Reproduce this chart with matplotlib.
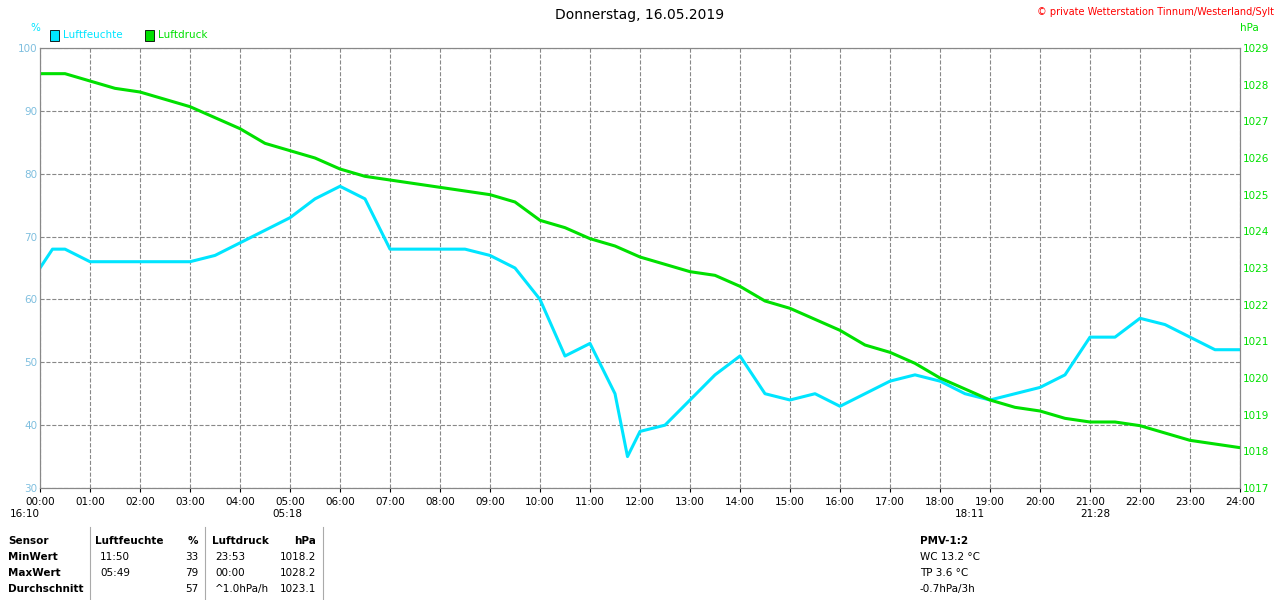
import matplotlib
matplotlib.use("Agg")
import matplotlib.pyplot as plt
import numpy as np

hours = [0,0.25,0.5,1,1.5,2,2.5,3,3.5,4,4.5,5,5.5,6,6.5,7,7.5,8,8.5,9,9.5,10,10.5,11,11.5,11.75,12,12.5,13,13.5,14,14.5,15,15.5,16,16.5,17,17.5,18,18.5,19,19.5,20,20.5,21,21.5,22,22.5,23,23.5,24]
humidity = [65,68,68,66,66,66,66,66,67,69,71,73,76,78,76,68,68,68,68,67,65,60,51,53,45,35,39,40,44,48,51,45,44,45,43,45,47,48,47,45,44,45,46,48,54,54,57,56,54,52,52]
p_hours = [0,0.5,1,1.5,2,2.5,3,3.5,4,4.5,5,5.5,6,6.5,7,7.5,8,8.5,9,9.5,10,10.5,11,11.5,12,12.5,13,13.5,14,14.5,15,15.5,16,16.5,17,17.5,18,18.5,19,19.5,20,20.5,21,21.5,22,22.5,23,23.5,24]
pressure = [1028.3,1028.3,1028.1,1027.9,1027.8,1027.6,1027.4,1027.1,1026.8,1026.4,1026.2,1026.0,1025.7,1025.5,1025.4,1025.3,1025.2,1025.1,1025.0,1024.8,1024.3,1024.1,1023.8,1023.6,1023.3,1023.1,1022.9,1022.8,1022.5,1022.1,1021.9,1021.6,1021.3,1020.9,1020.7,1020.4,1020.0,1019.7,1019.4,1019.2,1019.1,1018.9,1018.8,1018.8,1018.7,1018.5,1018.3,1018.2,1018.1]
xlabels = ["%02d:00" % h for h in range(25)]

cyan = "#00e5ff"; green = "#00e000"
fs = 7.5
fig = plt.figure(figsize=(12.8, 6), dpi=100)
ax = fig.add_axes([40/1280, 112/600, 1200/1280, 440/600])
ax.plot(hours, humidity, color=cyan, lw=2.2)
ax.set_xlim(0, 24); ax.set_ylim(30, 100)
ax.set_xticks(range(25)); ax.set_xticklabels(xlabels, fontsize=fs)
ax.set_yticks(range(30, 101, 10))
ax.tick_params(axis="y", colors="#7fbfdf", labelsize=fs, length=0, pad=2)
ax.tick_params(axis="x", labelsize=fs, length=3)
ax.grid(True, ls="--", color="#888888", lw=0.8)
ax2 = ax.twinx()
ax2.plot(p_hours, pressure, color=green, lw=2.2)
ax2.set_ylim(1017, 1029); ax2.set_yticks(range(1017, 1030))
ax2.tick_params(axis="y", colors=green, labelsize=fs, length=0, pad=2)
for a in (ax, ax2):
    for s in a.spines.values():
        s.set_color("#888888")

fig.text(0.5, 0.975, "Donnerstag, 16.05.2019", ha="center", va="center", fontsize=10)
fig.text(0.995, 0.98, "© private Wetterstation Tinnum/Westerland/Sylt", ha="right", va="center", fontsize=7, color="red")
fig.text(30/1280, 0.948, "%", color=cyan, fontsize=fs)
fig.text(1240/1280, 0.948, "hPa", color=green, fontsize=fs)
fig.patches.append(plt.Rectangle((50/1280, 0.932), 9/1280, 0.018, transform=fig.transFigure, fc=cyan, ec="k", lw=0.6))
fig.text(63/1280, 0.937, "Luftfeuchte", color=cyan, fontsize=fs)
fig.patches.append(plt.Rectangle((145/1280, 0.932), 9/1280, 0.018, transform=fig.transFigure, fc=green, ec="k", lw=0.6))
fig.text(158/1280, 0.937, "Luftdruck", color=green, fontsize=fs)

fig.text(10/1280, 1-514/600, "16:10", fontsize=fs, va="center")
fig.text(272/1280, 1-514/600, "05:18", fontsize=fs, va="center")
fig.text(955/1280, 1-514/600, "18:11", fontsize=fs, va="center")
fig.text(1080/1280, 1-514/600, "21:28", fontsize=fs, va="center")

rows = [("Sensor", "Luftfeuchte", "%", "Luftdruck", "hPa"),
        ("MinWert", "11:50", "33", "23:53", "1018.2"),
        ("MaxWert", "05:49", "79", "00:00", "1028.2"),
        ("Durchschnitt", "", "57", "^1.0hPa/h", "1023.1")]
ys = [541, 557, 573, 589]
for i, (r, y) in enumerate(zip(rows, ys)):
    yy = 1 - y/600
    w = "bold" if i == 0 else "normal"
    fig.text(8/1280, yy, r[0], fontsize=fs, weight="bold", va="center")
    fig.text((95 if i == 0 else 100)/1280, yy, r[1], fontsize=fs, weight=w, va="center")
    fig.text(198/1280, yy, r[2], fontsize=fs, weight=w, va="center", ha="right")
    fig.text((212 if i == 0 else 215)/1280, yy, r[3], fontsize=fs, weight=w, va="center")
    fig.text(316/1280, yy, r[4], fontsize=fs, weight=w, va="center", ha="right")
for xl in (90, 205, 323):
    fig.add_artist(plt.Line2D([xl/1280, xl/1280], [0, 1-527/600], color="#aaaaaa", lw=0.8))
for t, y in zip(["PMV-1:2", "WC 13.2 °C", "TP 3.6 °C", "-0.7hPa/3h"], ys):
    fig.text(920/1280, 1 - y/600, t, fontsize=fs, weight="bold" if t == "PMV-1:2" else "normal", va="center")
fig.savefig("out.png", dpi=100)
